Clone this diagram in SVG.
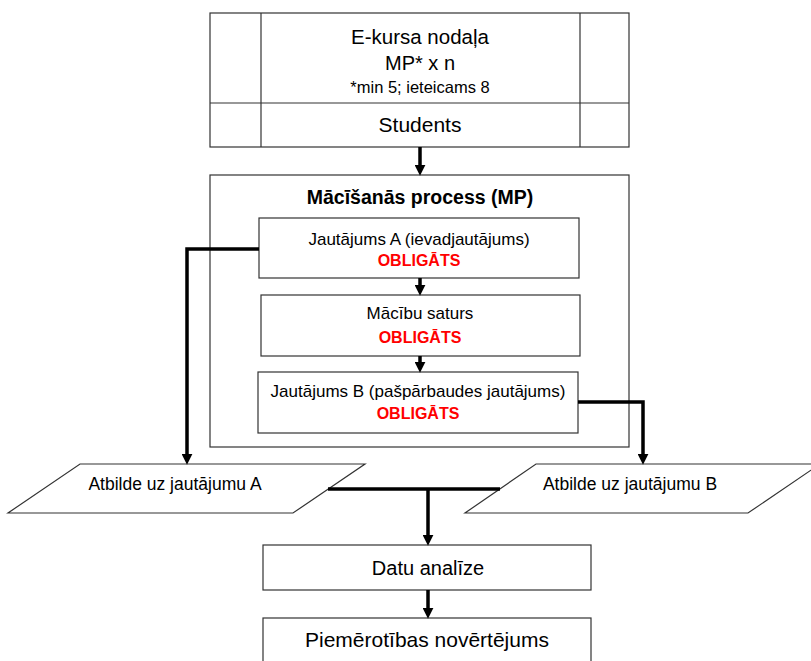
<svg xmlns="http://www.w3.org/2000/svg" width="811" height="661" viewBox="0 0 811 661">
<defs>
<style>
.box{fill:#fff;stroke:#333;stroke-width:1.2}
.t{font-family:"Liberation Sans",Arial,sans-serif;fill:#000;text-anchor:middle}
.ob{font-family:"Liberation Sans",Arial,sans-serif;fill:#ff0000;font-weight:bold;font-size:16px;text-anchor:middle}
.con{fill:none;stroke:#000;stroke-width:3.5}
</style>
<marker id="ah" viewBox="0 0 10 10" markerWidth="11" markerHeight="11" markerUnits="userSpaceOnUse" refX="3" refY="5" orient="auto">
<path d="M0,0 L10,5 L0,10 z" fill="#000"/>
</marker>
</defs>
<rect width="811" height="661" fill="#fff"/>

<g id="node-ekurss">
<rect class="box" x="210" y="13" width="419" height="134"/>
<line class="box" x1="261" y1="13" x2="261" y2="147"/>
<line class="box" x1="580" y1="13" x2="580" y2="147"/>
<line class="box" x1="210" y1="103" x2="629" y2="103"/>
<text class="t" x="420" y="44" font-size="20.5">E-kursa nodaļa</text>
<text class="t" x="420" y="70" font-size="20">MP* x n</text>
<text class="t" x="420" y="93" font-size="16.5">*min 5; ieteicams 8</text>
<text class="t" x="420" y="132" font-size="21">Students</text>
</g>

<g id="node-mp">
<rect class="box" x="210" y="175" width="419" height="272"/>
<text class="t" x="420" y="204" font-size="19.5" font-weight="bold">Mācīšanās process (MP)</text>
</g>

<g id="node-jautA">
<rect class="box" x="259" y="218" width="320" height="60"/>
<text class="t" x="419" y="245" font-size="17">Jautājums A (ievadjautājums)</text>
<text class="ob" x="419" y="266">OBLIGĀTS</text>
</g>

<g id="node-saturs">
<rect class="box" x="261" y="295" width="319" height="61"/>
<text class="t" x="420" y="319" font-size="17">Mācību saturs</text>
<text class="ob" x="420" y="343">OBLIGĀTS</text>
</g>

<g id="node-jautB">
<rect class="box" x="258" y="372" width="320" height="61"/>
<text class="t" x="418" y="397" font-size="17">Jautājums B (pašpārbaudes jautājums)</text>
<text class="ob" x="418" y="419">OBLIGĀTS</text>
</g>

<g id="node-atbA">
<polygon class="box" points="80,464 365,464 293,513 8,513"/>
<text class="t" x="175" y="490" font-size="17.5">Atbilde uz jautājumu A</text>
</g>

<g id="node-atbB">
<polygon class="box" points="536,464 820,464 748,513 465,513"/>
<text class="t" x="630" y="490" font-size="17.5">Atbilde uz jautājumu B</text>
</g>

<g id="node-datu">
<rect class="box" x="263" y="545" width="328" height="45"/>
<text class="t" x="428" y="575" font-size="20">Datu analīze</text>
</g>

<g id="node-piem">
<rect class="box" x="263" y="618" width="328" height="60"/>
<text class="t" x="427" y="647" font-size="21">Piemērotības novērtējums</text>
</g>

<g id="connectors">
<path class="con" d="M420,147 V168" marker-end="url(#ah)"/>
<path class="con" d="M420,278 V288" marker-end="url(#ah)"/>
<path class="con" d="M420,356 V365" marker-end="url(#ah)"/>
<path class="con" d="M259,249 H187 V457" marker-end="url(#ah)"/>
<path class="con" d="M578,402 H643 V457" marker-end="url(#ah)"/>
<path class="con" d="M328,489 H500"/>
<path class="con" d="M428,489 V538" marker-end="url(#ah)"/>
<path class="con" d="M428,590 V611" marker-end="url(#ah)"/>
</g>
</svg>
